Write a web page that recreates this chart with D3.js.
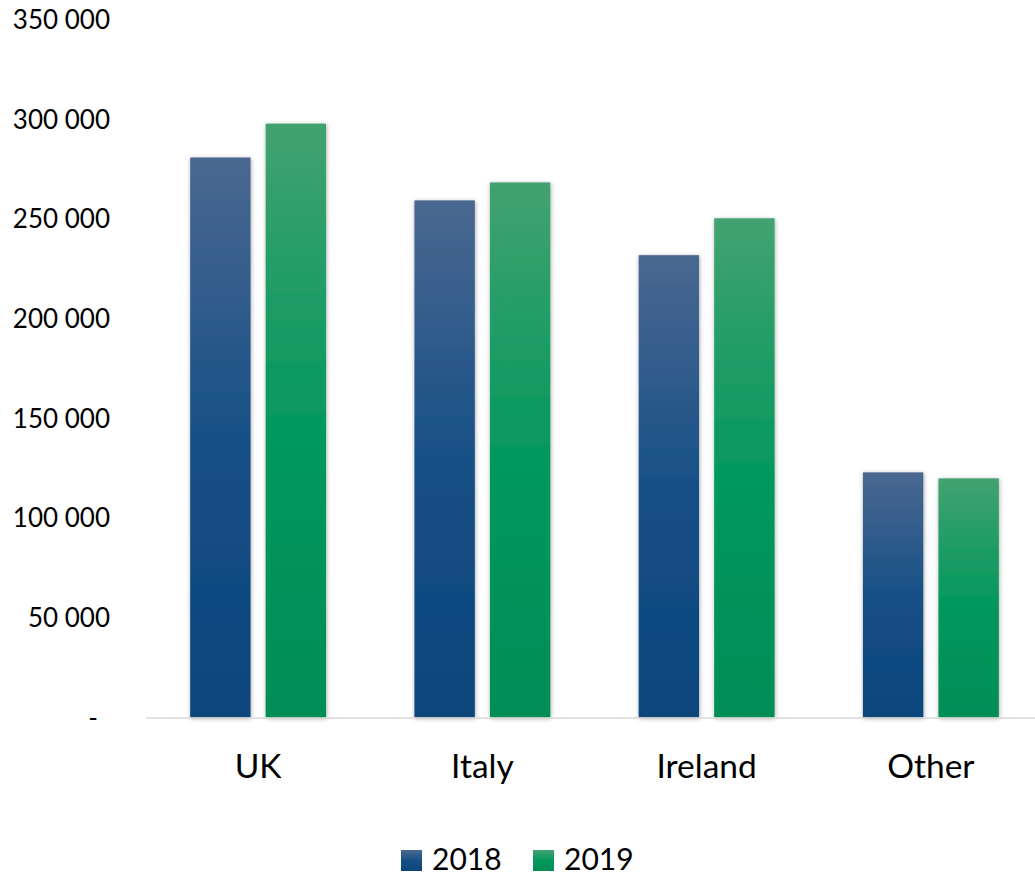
<!DOCTYPE html>
<html lang="en">
<head>
<meta charset="UTF-8">
<title>2018 vs 2019 by market</title>
<script src="https://d3js.org/d3.v7.min.js"></script>
<style>
  body { margin: 0; background: #fff; }
  svg { display: block; font-family: Lato, "Open Sans", sans-serif; }
</style>
</head>
<body>
<svg id="chart" width="1035" height="877"></svg>
<script>
// data
const categories = ["UK", "Italy", "Ireland", "Other"];
const series = ["2018", "2019"];
const values2018 = [281000, 259500, 232000, 123000];
const values2019 = [298000, 268500, 250500, 120000];
const yTicks = [0, 50000, 100000, 150000, 200000, 250000, 300000, 350000];

const svg = d3.select("#chart");
const width = 1035, height = 877;

const x0 = d3.scaleBand()
    .domain(categories)
    .range([146, 1043])
    .padding(0);

const x1 = d3.scaleBand()
    .domain(series)
    .range([0, x0.bandwidth()])
    .paddingInner(0.2)
    .paddingOuter(0.585);

const y = d3.scaleLinear()
    .domain([0, 350000])
    .range([717.5, 20]);

// gradients + shadow
const defs = svg.append("defs");
const grads = {
  "2018": ["#4a6890", "#154f86", "#0d467c"],
  "2019": ["#42a271", "#03985c", "#008e56"]
};
series.forEach(s => {
  const g = defs.append("linearGradient")
      .attr("id", "grad" + s)
      .attr("x1", 0).attr("y1", 0).attr("x2", 0).attr("y2", 1);
  g.append("stop").attr("offset", "0%").attr("stop-color", grads[s][0]);
  g.append("stop").attr("offset", "52%").attr("stop-color", grads[s][1]);
  g.append("stop").attr("offset", "100%").attr("stop-color", grads[s][2]);
});
defs.append("filter")
    .attr("id", "shadow")
    .attr("x", "-20%").attr("y", "-10%").attr("width", "140%").attr("height", "120%")
  .append("feDropShadow")
    .attr("dx", 0.5).attr("dy", 1)
    .attr("stdDeviation", 2.2)
    .attr("flood-color", "#000")
    .attr("flood-opacity", 0.35);

// y axis labels (no line, "-" for zero)
const fmt = d => d === 0 ? "-" : d3.format(",")(d).replace(/,/g, " ");
svg.append("g")
  .selectAll("text")
  .data(yTicks)
  .join("text")
    .attr("x", d => d === 0 ? 98 : 110)
    .attr("y", d => y(d))
    .attr("dy", "0.35em")
    .attr("text-anchor", "end")
    .attr("font-size", 26)
    .attr("fill", "#000")
    .text(fmt);

// bars
const rows = categories.map((c, i) => ({
  cat: c,
  vals: [{ s: "2018", v: values2018[i] }, { s: "2019", v: values2019[i] }]
}));

svg.append("g")
  .selectAll("g")
  .data(rows)
  .join("g")
    .attr("transform", d => `translate(${x0(d.cat)},0)`)
  .selectAll("rect")
  .data(d => d.vals)
  .join("rect")
    .attr("x", d => x1(d.s))
    .attr("y", d => y(d.v))
    .attr("width", x1.bandwidth())
    .attr("height", d => y(0) - y(d.v))
    .attr("fill", d => `url(#grad${d.s})`)
    .attr("filter", "url(#shadow)");

// baseline
svg.append("line")
    .attr("x1", 146).attr("x2", width)
    .attr("y1", y(0) + 0.5).attr("y2", y(0) + 0.5)
    .attr("stroke", "#d9d9d9")
    .attr("stroke-width", 1.5);

// category labels
svg.append("g")
  .selectAll("text")
  .data(categories)
  .join("text")
    .attr("x", d => x0(d) + x0.bandwidth() / 2)
    .attr("y", 778)
    .attr("text-anchor", "middle")
    .attr("font-size", 33.5)
    .attr("fill", "#000")
    .text(d => d);

// legend
const legend = svg.append("g");
const legendX = [401, 533];
series.forEach((s, i) => {
  legend.append("rect")
      .attr("x", legendX[i]).attr("y", 850)
      .attr("width", 21).attr("height", 21)
      .attr("fill", `url(#grad${s})`);
  legend.append("text")
      .attr("x", legendX[i] + 31).attr("y", 870)
      .attr("font-size", 30)
      .attr("fill", "#000")
      .text(s);
});
</script>
</body>
</html>
